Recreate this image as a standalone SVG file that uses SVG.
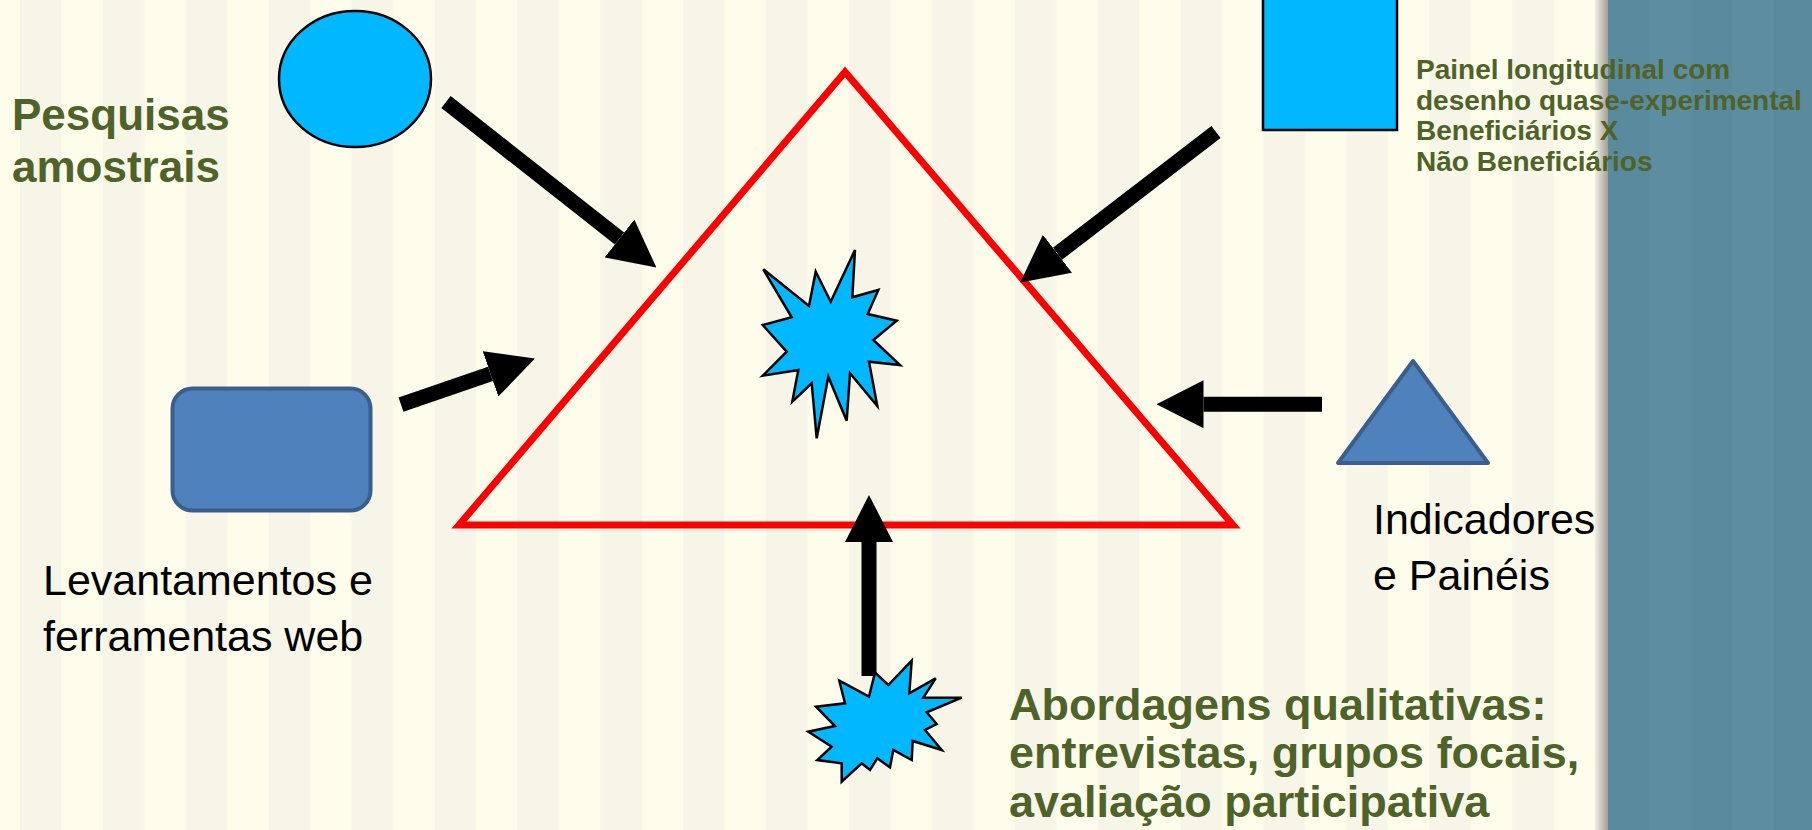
<svg xmlns="http://www.w3.org/2000/svg" width="1812" height="830" viewBox="0 0 1812 830">
  <defs>
    <pattern id="stripes" x="20" y="0" width="82.9" height="830" patternUnits="userSpaceOnUse">
      <rect x="0" y="0" width="41.45" height="830" fill="#F7F5E8"/>
    </pattern>
    <pattern id="panelStripes" x="1608" y="0" width="82.9" height="830" patternUnits="userSpaceOnUse">
      <rect x="0" y="0" width="41.45" height="830" fill="#000000" fill-opacity="0.025"/>
    </pattern>
    <linearGradient id="shadow" x1="0" y1="0" x2="1" y2="0">
      <stop offset="0" stop-color="#000000" stop-opacity="0"/>
      <stop offset="1" stop-color="#000000" stop-opacity="0.35"/>
    </linearGradient>
    <marker id="head" markerUnits="userSpaceOnUse" markerWidth="47" markerHeight="48" viewBox="0 0 47 48" refX="0" refY="24" orient="auto">
      <path d="M0,0 L47,24 L0,48 Z" fill="#000000"/>
    </marker>
    <style>
      .bg { fill: #FEFDEB; }
      .panel { fill: #5C8DA1; }
      .frame { fill: none; stroke: #FF0000; stroke-width: 7; stroke-linejoin: miter; }
      .conn { stroke: #000000; stroke-width: 15; fill: none; marker-end: url(#head); }
      .cyan { fill: #00B8FF; stroke: #000000; stroke-width: 2.5; stroke-linejoin: miter; }
      .steel { fill: #4F81BD; stroke: #3A5F8C; stroke-width: 4; stroke-linejoin: round; }
      .olive { font-family: "Liberation Sans", Arial, sans-serif; font-weight: bold; fill: #4F6228; }
      .plain { font-family: "Liberation Sans", Arial, sans-serif; fill: #000000; font-size: 43px; }
    </style>
  </defs>

  <!-- background -->
  <rect class="bg" x="0" y="0" width="1812" height="830"/>
  <rect x="0" y="0" width="1608" height="830" fill="url(#stripes)"/>
  <rect x="1594" y="0" width="14" height="830" fill="url(#shadow)"/>
  <rect class="panel" x="1608" y="0" width="204" height="830"/>
  <rect x="1608" y="0" width="204" height="830" fill="url(#panelStripes)"/>

  <!-- central triangle -->
  <g id="center">
    <polygon class="frame" points="845,72 459,525 1233,525"/>
  </g>

  <!-- connectors -->
  <g id="connectors">
    <line class="conn" x1="446" y1="102" x2="619.5" y2="238.5"/>
    <line class="conn" x1="1216" y1="132" x2="1057.5" y2="253.8"/>
    <line class="conn" x1="401" y1="404.7" x2="490.5" y2="373.9"/>
    <line class="conn" x1="1322" y1="404.2" x2="1203.5" y2="404.2"/>
    <line class="conn" x1="869" y1="676" x2="869" y2="542"/>
  </g>

  <g id="center-star">
    <polygon class="cyan" points="855,250 852.3,297.3 878.3,290 867.7,314 896.7,320.7 873.3,340 900,365 869,361.7 877.3,406 850,373.3 846.7,420.7 828.3,376.7 816.7,438.3 811.7,383.3 792.3,401.7 798.3,370 762.7,375.7 786.7,351.7 762.7,325 791.7,317.3 763.3,269.3 809,306 815.7,271.7 830.7,301.7"/>
  </g>

  <g id="node-pesquisas">
    <ellipse class="cyan" cx="355" cy="79" rx="76" ry="68" stroke-width="2"/>
    <text class="olive" font-size="44" x="12" y="130">Pesquisas</text>
    <text class="olive" font-size="44" x="12" y="182">amostrais</text>
  </g>

  <g id="node-painel">
    <rect class="cyan" x="1263" y="-10" width="134" height="140" stroke-width="3"/>
    <text class="olive" font-size="28" x="1416" y="79">Painel longitudinal com</text>
    <text class="olive" font-size="28" x="1416" y="109.5">desenho quase-experimental</text>
    <text class="olive" font-size="28" x="1416" y="140">Beneficiários X</text>
    <text class="olive" font-size="28" x="1416" y="170.5">Não Beneficiários</text>
  </g>

  <g id="node-levantamentos">
    <rect class="steel" x="172.5" y="388.5" width="198" height="122" rx="20" ry="20"/>
    <text class="plain" x="43" y="595">Levantamentos e</text>
    <text class="plain" x="43" y="651">ferramentas web</text>
  </g>

  <g id="node-indicadores">
    <polygon class="steel" points="1413,361 1338,463 1488,463"/>
    <text class="plain" x="1373" y="534">Indicadores</text>
    <text class="plain" x="1373" y="590">e Painéis</text>
  </g>

  <g id="node-abordagens">
    <polygon class="cyan" points="839.3,680.7 869,696.7 875,672.7 888.3,685 911.7,660.7 909.3,693.3 935.7,678.3 923.3,697.7 961.7,697.7 926.7,712.3 936.7,724 925,730 941.7,750 912.7,741 911.7,760 893.3,750 890,767.3 877.3,758.3 870,770 861.7,763.3 841.7,781.7 841.7,763.3 817.3,760 831.7,746.7 808.3,731.7 835,726 816,706.7 845,703.3"/>
    <text class="olive" font-size="45" x="1009" y="720">Abordagens qualitativas:</text>
    <text class="olive" font-size="45" x="1009" y="768">entrevistas, grupos focais,</text>
    <text class="olive" font-size="45" x="1009" y="817">avaliação participativa</text>
  </g>
</svg>
